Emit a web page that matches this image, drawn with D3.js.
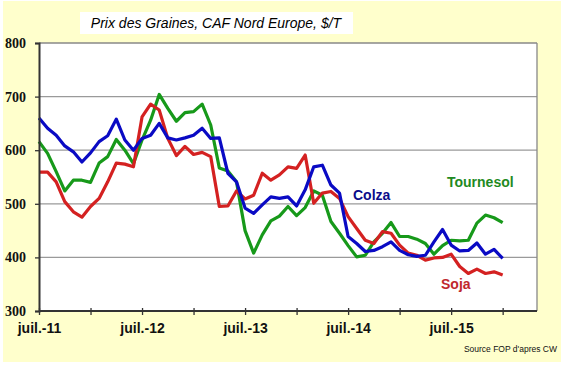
<!DOCTYPE html>
<html><head><meta charset="utf-8">
<script src="https://cdn.jsdelivr.net/npm/d3@7"></script>
<style>html,body{margin:0;padding:0;background:#fff;}svg{display:block;}</style>
</head><body>
<script>
// ---- data ----
const months = d3.range(55); // Jul 2011 .. Jan 2016, monthly index
const colza = [660,641,628,608,597,578,595,616,627,658,619,600,622,628,650,623,619,623,628,641,622,623,557,541,492,482,498,513,510,513,496,526,569,572,535,520,439,426,411,413,420,429,413,405,402,404,429,452,423,412,413,427,406,415,398];
const tournesol = [616,594,560,524,544,544,540,576,588,620,600,575,619,656,704,678,654,670,672,686,647,567,561,541,450,408,442,468,477,495,478,493,524,516,467,445,422,401,404,429,445,465,439,439,434,426,406,422,432,431,432,464,479,474,465];
const soja = [559,559,541,504,485,475,495,510,541,576,574,569,662,686,675,622,590,607,592,596,588,495,496,524,509,516,557,544,554,569,566,591,501,520,523,510,476,454,432,426,448,445,423,408,404,395,399,400,406,383,370,378,370,373,367];
const xTickValues = [0,6,12,18,24,30,36,42,48,54];
const xTickLabels = {0:"juil.-11",12:"juil.-12",24:"juil.-13",36:"juil.-14",48:"juil.-15"};
const yTicks = [300,400,500,600,700,800];
const series = [
  {name:"Tournesol", values:tournesol, color:"#17991a", label:"#1f8a22", lx:447, ly:187},
  {name:"Soja", values:soja, color:"#d42121", label:"#c0282d", lx:441, ly:289},
  {name:"Colza", values:colza, color:"#0a0ac4", label:"#0b0b8a", lx:353, ly:200}
];

const W=570,H=367;
const svg=d3.select("body").append("svg").attr("width",W).attr("height",H);
// backgrounds
svg.append("rect").attr("x",3).attr("y",1).attr("width",558).attr("height",361).attr("fill","#ffffcc");
const L=39,R=537,T=43,B=311;
svg.append("rect").attr("x",L).attr("y",T).attr("width",R-L).attr("height",B-T).attr("fill","#fff");

const x=d3.scaleLinear().domain([0,58]).range([L,R]);
const y=d3.scaleLinear().domain([300,800]).range([B,T]);

// gridlines
svg.append("g").selectAll("line").data(yTicks.filter(v=>v>300&&v<800)).join("line")
  .attr("x1",L).attr("x2",R).attr("y1",d=>y(d)).attr("y2",d=>y(d))
  .attr("stroke","#9a9a9a").attr("stroke-width",1.3);
// top and right borders
svg.append("line").attr("x1",L).attr("x2",R).attr("y1",T).attr("y2",T).attr("stroke","#888").attr("stroke-width",1.3);
svg.append("line").attr("x1",R).attr("x2",R).attr("y1",T).attr("y2",B).attr("stroke","#888").attr("stroke-width",1.3);

// lines
const line=d3.line().x((d,i)=>x(months[i])).y(d=>y(d));
series.forEach(s=>{
  svg.append("path").datum(s.values).attr("d",line).attr("fill","none")
    .attr("stroke",s.color).attr("stroke-width",3.2).attr("stroke-linejoin","round");
});

// y axis
const yAxis=svg.append("g").attr("transform",`translate(${L},0)`)
  .call(d3.axisLeft(y).tickValues(yTicks).tickSize(4).tickPadding(9).tickFormat(d3.format("d")));
yAxis.select(".domain").attr("stroke","#333").attr("stroke-width",2);
yAxis.selectAll(".tick line").attr("stroke","#333").attr("stroke-width",1.3);
yAxis.selectAll("text").attr("font-family","Liberation Serif, serif").attr("font-weight","bold").attr("font-size",14).attr("fill","#111");

// x axis
const xAxis=svg.append("g").attr("transform",`translate(0,${B})`)
  .call(d3.axisBottom(x).tickValues(xTickValues).tickSize(4).tickPadding(8).tickFormat(d=>xTickLabels[d]||""));
xAxis.select(".domain").attr("stroke","#333").attr("stroke-width",2).attr("d",`M${L},0H${R}`);
xAxis.selectAll(".tick line").attr("y1",-3).attr("y2",4).attr("stroke","#333").attr("stroke-width",1.3);
xAxis.selectAll("text").attr("font-family","Liberation Sans, Arial, sans-serif").attr("font-weight","bold").attr("font-size",14).attr("fill","#111");

// series labels
series.forEach(s=>{
  svg.append("text").attr("x",s.lx).attr("y",s.ly).text(s.name)
    .attr("font-family","Liberation Sans, Arial, sans-serif").attr("font-weight","bold").attr("font-size",14).attr("fill",s.label);
});

// title
svg.append("rect").attr("x",80).attr("y",12).attr("width",273).attr("height",22).attr("fill","#fff");
svg.append("text").attr("x",216).attr("y",28).attr("text-anchor","middle")
  .attr("font-family","Liberation Sans, Arial, sans-serif").attr("font-style","italic").attr("font-size",14).attr("fill","#000")
  .text("Prix des Graines, CAF Nord Europe, $/T");

// source
svg.append("text").attr("x",557).attr("y",352).attr("text-anchor","end")
  .attr("font-family","Liberation Sans, Arial, sans-serif").attr("font-size",8.5).attr("fill","#111")
  .text("Source FOP d'apres CW");
</script>
</body></html>
